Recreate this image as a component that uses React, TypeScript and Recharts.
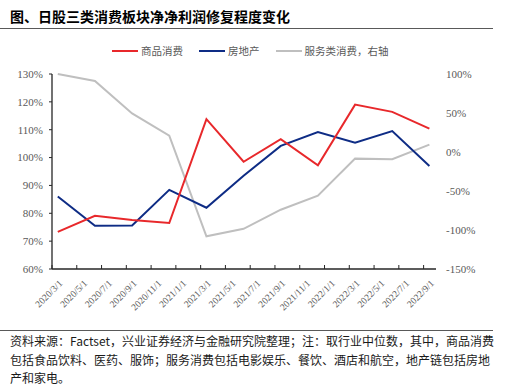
import { LineChart, Line, XAxis, YAxis } from "recharts";

// tick labels on the date axis (every two months)
const tickLabels = [
  "2020/3/1", "2020/5/1", "2020/7/1", "2020/9/1", "2020/11/1", "2021/1/1",
  "2021/3/1", "2021/5/1", "2021/7/1", "2021/9/1", "2021/11/1", "2022/1/1",
  "2022/3/1", "2022/5/1", "2022/7/1", "2022/9/1",
];

// quarterly observation dates
const pointDates = [
  "2020/3/15", "2020/6/15", "2020/9/15", "2020/12/15", "2021/3/15", "2021/6/15",
  "2021/9/15", "2021/12/15", "2022/3/15", "2022/6/15", "2022/9/15",
];

const goods = [73.3, 79.1, 77.6, 76.5, 113.8, 98.5, 106.6, 97.2, 119.0, 116.4, 110.4];
const property = [86.0, 75.5, 75.6, 88.4, 82.0, 93.5, 104.2, 109.2, 105.3, 109.5, 97.0];
const services = [100, 91, 49.5, 21, -108, -98.5, -74, -56, -8.5, -9.3, 9.5];

const leftTicks = [60, 70, 80, 90, 100, 110, 120, 130];
const rightTicks = [-150, -100, -50, 0, 50, 100];

const footerLines = [
  "资料来源：Factset，兴业证券经济与金融研究院整理；注：取行业中位数，其中，商品消费",
  "包括食品饮料、医药、服饰；服务消费包括电影娱乐、餐饮、酒店和航空，地产链包括房地",
  "产和家电。",
];

const RED = "#E8282B";
const BLUE = "#0E2C85";
const GRAY = "#BFBFBF";
const AXIS_TEXT = "#595959";
const SERIF = "'Liberation Serif', 'Times New Roman', serif";
const CJK = "'Noto Sans CJK SC', sans-serif";

function monthOffset(d: string) {
  const [y, m, day] = d.split("/").map(Number);
  return (y - 2020) * 12 + (m - 3) + (day - 1) / 30;
}

const tickValues = tickLabels.map(monthOffset);
const labelByValue: Record<number, string> = {};
tickLabels.forEach((l, i) => (labelByValue[tickValues[i]] = l));

const data = pointDates.map((d, i) => ({
  t: monthOffset(d),
  goods: goods[i],
  property: property[i],
  services: services[i],
}));

function DateTick(props: any) {
  const { x, y, payload } = props;
  return (
    <g transform={`translate(${x},${y})`}>
      <line x1={0} y1={0} x2={0} y2={-4} stroke="#262626" strokeWidth={1} />
      <text
        transform="translate(11,15) rotate(-45)"
        textAnchor="end"
        fontSize={9.5}
        fontFamily={SERIF}
        fill={AXIS_TEXT}
      >
        {labelByValue[payload.value]}
      </text>
    </g>
  );
}

const legendItems = [
  { name: "商品消费", color: RED },
  { name: "房地产", color: BLUE },
  { name: "服务类消费，右轴", color: GRAY },
];

export default function App() {
  return (
    <div
      style={{
        position: "absolute",
        left: 0,
        top: 0,
        width: 508,
        height: 389,
        background: "#fff",
        overflow: "hidden",
      }}
    >
      <LineChart
        width={508}
        height={389}
        data={data}
        margin={{ top: 74, right: 0, left: 0, bottom: 60 }}
      >
        <XAxis
          dataKey="t"
          type="number"
          domain={[0, 31]}
          ticks={tickValues}
          interval={0}
          height={60}
          tickSize={0}
          tickMargin={0}
          tickLine={false}
          axisLine={{ stroke: "#262626", strokeWidth: 1.3 }}
          tick={<DateTick />}
        />
        <YAxis
          yAxisId="left"
          width={52}
          domain={[60, 130]}
          ticks={leftTicks}
          interval={0}
          tickFormatter={(v) => `${v}%`}
          tickSize={3}
          tickMargin={6}
          tickLine={{ stroke: "#262626" }}
          axisLine={{ stroke: "#262626", strokeWidth: 1.3 }}
          tick={{ fontSize: 11, fontFamily: SERIF, fill: AXIS_TEXT }}
        />
        <YAxis
          yAxisId="right"
          orientation="right"
          width={72}
          domain={[-150, 100]}
          ticks={rightTicks}
          interval={0}
          tickFormatter={(v) => `${v}%`}
          tickSize={0}
          tickMargin={10}
          tickLine={false}
          axisLine={false}
          tick={{ fontSize: 11, fontFamily: SERIF, fill: AXIS_TEXT, textAnchor: "start" }}
        />
        <Line yAxisId="right" dataKey="services" stroke={GRAY} strokeWidth={2} dot={false} isAnimationActive={false} />
        <Line yAxisId="left" dataKey="property" stroke={BLUE} strokeWidth={2} dot={false} isAnimationActive={false} />
        <Line yAxisId="left" dataKey="goods" stroke={RED} strokeWidth={2} dot={false} isAnimationActive={false} />
      </LineChart>

      <div
        style={{
          position: "absolute",
          left: 10,
          top: 6,
          fontFamily: CJK,
          fontSize: 14,
          fontWeight: 700,
          color: "#000",
          whiteSpace: "nowrap",
        }}
      >
        图、日股三类消费板块净净利润修复程度变化
      </div>
      <div style={{ position: "absolute", left: 0, top: 28, width: 493, height: 1, background: "#595959" }} />

      <div
        style={{
          position: "absolute",
          left: 112,
          top: 43,
          display: "flex",
          alignItems: "center",
          fontFamily: CJK,
          fontSize: 10.5,
          color: AXIS_TEXT,
          whiteSpace: "nowrap",
        }}
      >
        {legendItems.map((it) => (
          <div key={it.name} style={{ display: "flex", alignItems: "center", marginRight: 16 }}>
            <div style={{ width: 26, height: 2, background: it.color, marginRight: 3 }} />
            <span>{it.name}</span>
          </div>
        ))}
      </div>

      <div style={{ position: "absolute", left: 0, top: 330, width: 493, height: 1, background: "#595959" }} />
      <div
        style={{
          position: "absolute",
          left: 10,
          top: 332,
          fontFamily: CJK,
          fontSize: 12,
          lineHeight: "18.5px",
          color: "#1a1a1a",
          whiteSpace: "nowrap",
        }}
      >
        {footerLines.map((l) => (
          <div key={l}>{l}</div>
        ))}
      </div>
    </div>
  );
}
